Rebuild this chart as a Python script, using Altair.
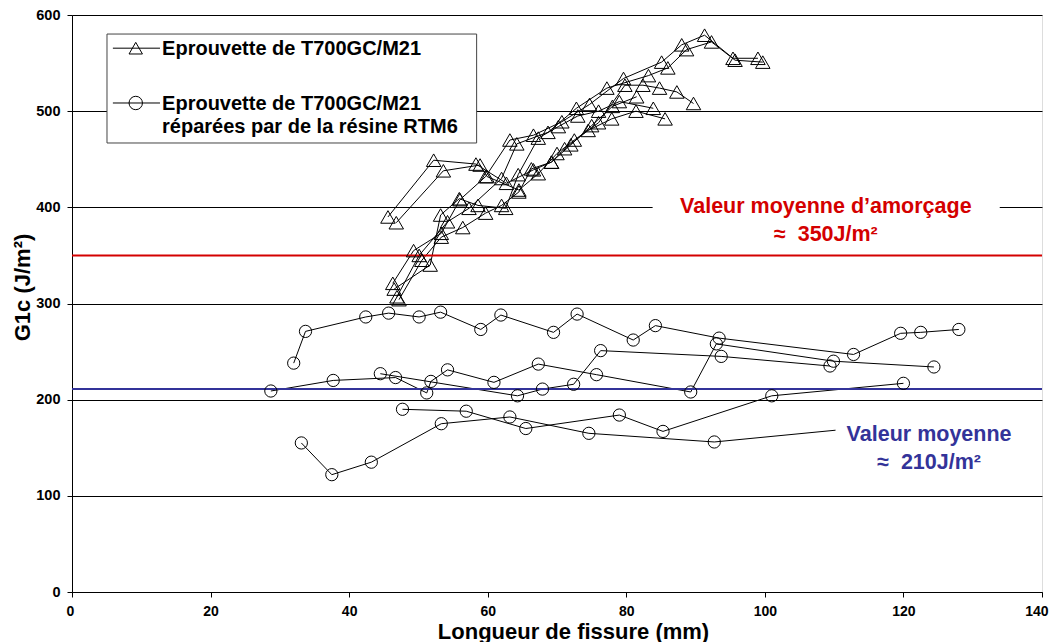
import altair as alt
import pandas as pd

# ---------------- data ----------------
# Eprouvettes de T700GC/M21 (triangles)
t1_x = [46.3, 49.3, 53.3, 56.0, 59.7, 63.2, 66.6, 70.7, 74.7, 79.6, 85.1, 88.0, 91.3, 95.4, 99.0]
t1_y = [321, 355, 373, 408, 432, 470, 475, 489, 507, 534, 551, 569, 579, 555, 555]
t2_x = [46.9, 50.1, 54.2, 57.3, 62.0, 64.2, 68.7, 72.8, 77.2, 83.2, 86.0, 88.7, 92.3, 95.7, 99.7]
t2_y = [307, 350, 385, 399, 430, 466, 478, 503, 524, 537, 545, 564, 572, 553, 551]
t3_x = [45.6, 52.2, 58.3, 62.7, 66.6, 69.2, 71.1, 74.5, 77.9, 81.4, 85.6]
t3_y = [390, 449, 445, 425, 439, 447, 461, 480, 492, 500, 492]
t4_x = [46.8, 53.6, 58.9, 59.9, 64.5, 67.3, 70.0, 72.5, 76.0, 79.8, 82.4, 84.8, 87.3, 89.7]
t4_y = [384, 438, 444, 432, 418, 435, 456, 470, 488, 527, 527, 524, 520, 508]
t5_x = [46.5, 51.7, 53.2, 55.9, 58.6, 62.6, 64.4, 67.3, 70.2, 73.0, 76.0, 79.0, 83.9]
t5_y = [315, 340, 392, 409, 402, 399, 434, 472, 484, 495, 500, 510, 503]
t6_x = [47.2, 50.5, 53.3, 56.4, 59.7, 62.0, 64.5, 66.3, 69.2, 72.0, 75.0, 78.0, 81.5]
t6_y = [304, 345, 369, 379, 394, 402, 416, 440, 447, 465, 485, 505, 515]

# Eprouvettes réparées par de la résine RTM6 (cercles)
c1_x = [32.0, 33.7, 42.4, 45.7, 50.1, 53.2, 59.0, 61.9, 69.5, 72.9, 81.0, 84.2, 93.4, 112.8, 119.6, 122.5, 128.0]
c1_y = [238, 271, 286, 290, 286, 291, 273, 288, 270, 289, 262, 277, 264, 247, 269, 270, 273]
c2_x = [33.1, 37.5, 43.2, 53.3, 63.2, 74.6, 92.7, 111.3]
c2_y = [155, 122, 135, 175, 182, 165, 156, 169]
c3_x = [47.7, 56.9, 65.5, 79.0, 85.3, 101.0, 120.0]
c3_y = [190, 188, 170, 184, 167, 204, 217]
c4_x = [28.7, 37.7, 46.7, 51.2, 51.8, 54.2, 60.9, 67.3, 75.7, 89.3, 93.0, 109.9, 124.4]
c4_y = [209, 220, 223, 207, 219, 231, 218, 237, 226, 208, 258, 240, 234]
c5_x = [44.5, 64.3, 67.9, 72.4, 76.3, 93.7, 109.4]
c5_y = [227, 204, 211, 216, 251, 245, 235]

avg_init = 350   # valeur moyenne d'amorçage
avg_rep = 211    # valeur moyenne réparées

legend_labels = ["Eprouvette de T700GC/M21",
                 "Eprouvette de T700GC/M21",
                 "réparées par de la résine RTM6"]
red_label = ["Valeur moyenne d\u2019amorçage", "\u2248\u00a0 350J/m²"]
blue_label = ["Valeur moyenne", "\u2248\u00a0 210J/m²"]

FONT = "Liberation Sans"
RED = "#d40000"
BLUE = "#333399"

# ---------------- tables ----------------
rows = []
for name, xs_, ys_, kind in [
    ("T1", t1_x, t1_y, "tri"), ("T2", t2_x, t2_y, "tri"), ("T3", t3_x, t3_y, "tri"),
    ("T4", t4_x, t4_y, "tri"), ("T5", t5_x, t5_y, "tri"), ("T6", t6_x, t6_y, "tri"),
    ("C1", c1_x, c1_y, "circ"), ("C2", c2_x, c2_y, "circ"), ("C3", c3_x, c3_y, "circ"),
    ("C4", c4_x, c4_y, "circ"), ("C5", c5_x, c5_y, "circ")]:
    for i, (x, y) in enumerate(zip(xs_, ys_)):
        rows.append({"series": name, "kind": kind, "order": i, "x": x, "y": y})
df = pd.DataFrame(rows)

xs = alt.Scale(domain=[0, 140], nice=False, zero=False)
ys = alt.Scale(domain=[0, 600], nice=False, zero=False)

X = alt.X("x:Q", scale=xs, axis=alt.Axis(
    values=list(range(0, 141, 20)), grid=False, title="Longueur de fissure (mm)",
    labelFont=FONT, labelFontSize=14, labelFontWeight="bold", labelColor="black",
    titleFont=FONT, titleFontSize=22, titleFontWeight="bold", titleColor="black",
    domainColor="black", tickColor="black", tickSize=5, labelPadding=7,
    labelFlush=True, labelFlushOffset=6,
    titleX=501, titleY=39, titleBaseline="middle"))
Y = alt.Y("y:Q", scale=ys, axis=alt.Axis(
    values=list(range(0, 601, 100)), grid=True, gridColor="black", gridWidth=1,
    title="G1c (J/m²)",
    labelFont=FONT, labelFontSize=14.5, labelFontWeight="bold", labelColor="black",
    titleFont=FONT, titleFontSize=22, titleFontWeight="bold", titleColor="black",
    domainColor="black", tickColor="black", tickSize=5, labelPadding=7,
    titleX=-50, titleY=272, titleBaseline="middle"))

base = alt.Chart(df)
lines = base.mark_line(color="black", strokeWidth=1).encode(
    x=X, y=Y, detail="series:N", order="order:Q")
tris = base.transform_filter(alt.datum.kind == "tri").mark_point(
    shape="triangle-up", filled=False, color="black", size=210, strokeWidth=1, opacity=1
).encode(x="x:Q", y="y:Q")
circs = base.transform_filter(alt.datum.kind == "circ").mark_point(
    shape="circle", filled=False, color="black", size=150, strokeWidth=1, opacity=1
).encode(x="x:Q", y="y:Q")

avg_df = pd.DataFrame({"y": [avg_init, avg_rep], "c": [RED, BLUE]})
avg = alt.Chart(avg_df).mark_rule(strokeWidth=2).encode(
    y="y:Q", color=alt.Color("c:N", scale=None))

# white backgrounds of the annotations
bg_df = pd.DataFrame({"x": [83.8, 110.2], "x2": [133.9, 135.5],
                      "y": [360, 125], "y2": [422, 178]})
bg = alt.Chart(bg_df).mark_rect(fill="white").encode(x="x:Q", x2="x2", y="y:Q", y2="y2")

ann_df = pd.DataFrame({"x": [108.8, 108.8, 123.7, 123.7],
                       "y": [400.3, 371.0, 163.0, 134.0],
                       "t": red_label + blue_label,
                       "c": [RED, RED, BLUE, BLUE]})
ann = alt.Chart(ann_df).mark_text(font=FONT, fontSize=21.5, fontWeight="bold",
                                  baseline="middle", align="center").encode(
    x="x:Q", y="y:Q", text="t:N", color=alt.Color("c:N", scale=None))

# legend
lbox_df = pd.DataFrame({"x": [5.05], "x2": [58.4], "y": [466.9], "y2": [580.2]})
lbox = alt.Chart(lbox_df).mark_rect(fill="white", stroke="#444444", strokeWidth=1).encode(
    x="x:Q", x2="x2", y="y:Q", y2="y2")
lline_df = pd.DataFrame({"x": [5.9, 12.7, 5.9, 12.7], "y": [565.5, 565.5, 508.5, 508.5],
                         "g": ["a", "a", "b", "b"]})
lline = alt.Chart(lline_df).mark_line(color="black", strokeWidth=1).encode(
    x="x:Q", y="y:Q", detail="g:N")
lsym_df = pd.DataFrame({"x": [9.2, 9.2], "y": [565.5, 508.5], "s": ["triangle-up", "circle"]})
lsym = alt.Chart(lsym_df).mark_point(filled=False, color="black", size=180, strokeWidth=1,
                                     opacity=1).encode(
    x="x:Q", y="y:Q", shape=alt.Shape("s:N", scale=None))
ltxt_df = pd.DataFrame({"x": [13.0, 13.0, 13.0], "y": [564.5, 507.4, 483.5], "t": legend_labels})
ltxt = alt.Chart(ltxt_df).mark_text(font=FONT, fontSize=20, fontWeight="bold",
                                    align="left", baseline="middle", color="black").encode(
    x="x:Q", y="y:Q", text="t:N")

chart = alt.layer(lines, avg, tris, circs, bg, ann, lbox, lline, lsym, ltxt).properties(
    width=970, height=577,
    autosize=alt.AutoSizeParams(type="none"),
    padding={"left": 64, "top": 7, "right": 8, "bottom": 50},
).configure_view(stroke=None).configure(background="white")

chart.save("out.html", embed_options={"renderer": "svg", "actions": False})
